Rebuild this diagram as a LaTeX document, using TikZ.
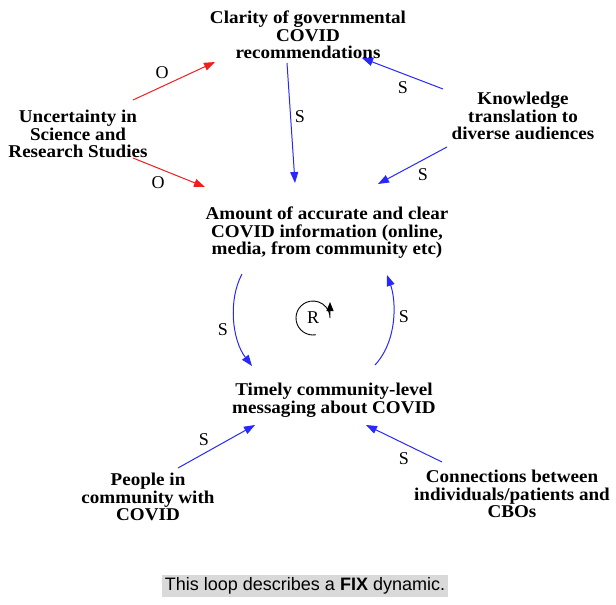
\documentclass[tikz,border=0pt]{standalone}
\usepackage{fontspec}
\setmainfont{Liberation Serif}
\newfontfamily\varfont[FakeStretch=1.06]{Liberation Serif}
\newfontfamily\capfont{Liberation Sans}
\usetikzlibrary{arrows.meta}
\definecolor{myred}{RGB}{240,30,30}
\definecolor{myblue}{RGB}{40,40,250}
\definecolor{capgray}{RGB}{217,217,217}
\begin{document}
\begin{tikzpicture}[x=1pt,y=-1pt,
  var/.style={align=center,inner sep=0pt,font=\varfont\bfseries\fontsize{18}{17.5}\selectfont},
  lbl/.style={inner sep=0pt,font=\fontsize{18}{18}\selectfont},
  poslink/.style={draw=myblue,line width=1pt,-{Triangle[length=11pt,width=8pt]}},
  neglink/.style={draw=myred,line width=1pt,-{Triangle[length=11pt,width=8pt]}}]
\useasboundingbox (0,0) rectangle (616,605);
\node[var] (clar) at (308,35) {Clarity of governmental\\COVID\\recommendations};
\node[var] (unc) at (78,134) {Uncertainty in\\Science and\\Research Studies};
\node[var] (know) at (523,116) {Knowledge\\translation to\\diverse audiences};
\node[var] (amt) at (327,233) {Amount of accurate and clear\\COVID information (online,\\media, from community etc)};
\node[var] (tim) at (334,400) {Timely community-level\\messaging about COVID};
\node[var] (ppl) at (148,497) {People in\\community with\\COVID};
\node[var] (conn) at (512,494) {Connections between\\individuals/patients and\\CBOs};
\draw[neglink] ([shift={(55,-34)}]unc.center) -- ([shift={(-93,27)}]clar.center);
\draw[neglink] ([shift={(55,24)}]unc.center) -- ([shift={(-122,-46)}]amt.center);
\draw[poslink] ([shift={(-21,28)}]clar.center) -- ([shift={(-32,-50)}]amt.center);
\draw[poslink] ([shift={(-80,-27)}]know.center) -- ([shift={(54,23)}]clar.center);
\draw[poslink] ([shift={(-76,31)}]know.center) -- ([shift={(51,-49)}]amt.center);
\draw[poslink] ([shift={(-85,41)}]amt.center) .. controls (228,300) and (232,340) .. ([shift={(-82,-34)}]tim.center);
\draw[poslink] ([shift={(41,-35)}]tim.center) .. controls (398,340) and (396,300) .. ([shift={(60,42)}]amt.center);
\draw[poslink] ([shift={(30,-29)}]ppl.center) -- ([shift={(-79,25)}]tim.center);
\draw[poslink] ([shift={(-70,-32)}]conn.center) -- ([shift={(32,25)}]tim.center);
\node[lbl] (o1) at (162,73) {O};
\node[lbl] (o2) at (158,183) {O};
\node[lbl] (s1) at (300,117) {S};
\node[lbl] (s2) at (403,88) {S};
\node[lbl] (s3) at (423,175) {S};
\node[lbl] (s4) at (223,330) {S};
\node[lbl] (s5) at (404,317) {S};
\node[lbl] (s6) at (204,440) {S};
\node[lbl] (s7) at (404,459) {S};
\node[lbl] (r) at (313,318) {R};
\draw[line width=0.9pt,-{Triangle[length=9pt,width=7pt]}] (313,318) ++(80:17) arc[start angle=80,end angle=360,radius=17] -- ++(0,-16);
\node[fill=capgray,inner xsep=3pt,inner ysep=3pt,font=\capfont\fontsize{18}{18}\selectfont] (cap) at (305,586) {This loop describes a \textbf{FIX} dynamic.};
\end{tikzpicture}
\end{document}
